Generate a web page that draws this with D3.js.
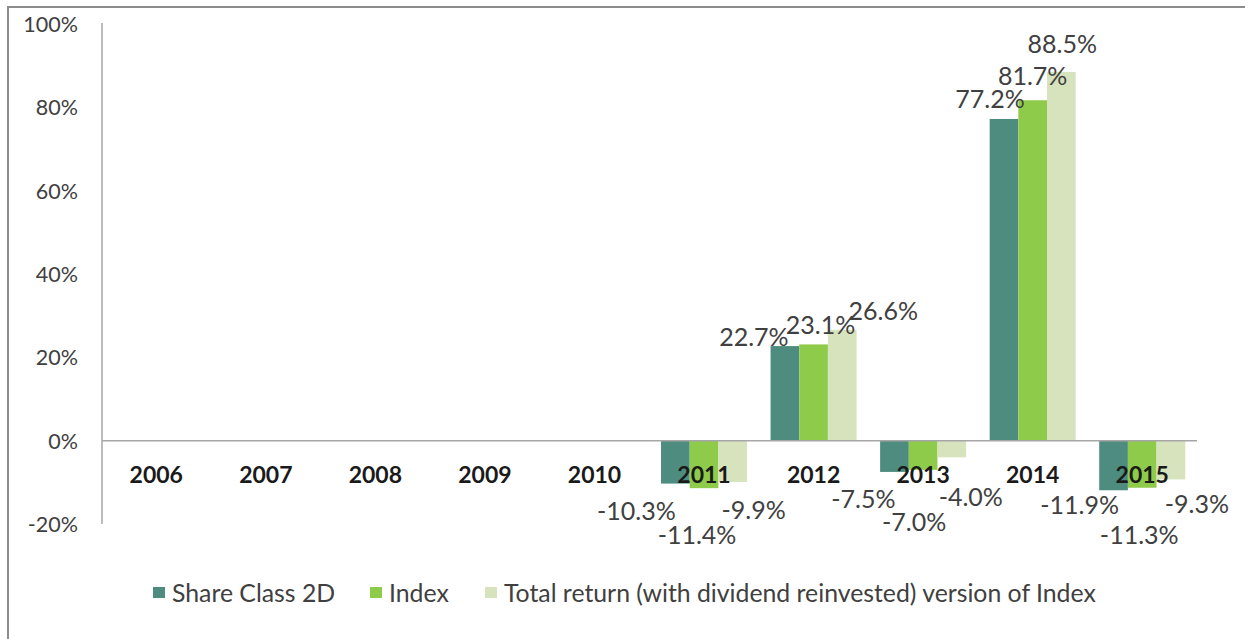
<!DOCTYPE html>
<html><head><meta charset="utf-8">
<script src="https://cdn.jsdelivr.net/npm/d3@7/dist/d3.min.js"></script>
<style>
html,body{margin:0;padding:0;background:#fff;}
svg{display:block;font-family:Lato,"Open Sans",sans-serif;}
</style></head>
<body>
<svg id="chart" width="1254" height="639"></svg>
<script>
const years = ["2006","2007","2008","2009","2010","2011","2012","2013","2014","2015"];
const seriesNames = ["Share Class 2D","Index","Total return (with dividend reinvested) version of Index"];
const shareClass = [null,null,null,null,null,-10.3,22.7,-7.5,77.2,-11.9];
const indexVals  = [null,null,null,null,null,-11.4,23.1,-7.0,81.7,-11.3];
const totalRet   = [null,null,null,null,null,-9.9,26.6,-4.0,88.5,-9.3];
const yTicks = [-20,0,20,40,60,80,100];
const colors = ["#4d8c7e","#8fcb4a","#d6e3bc"];
// label nudges [dx, dy] relative to bar end (pixels), per series per year index 5..9
const labelNudge = [
  [[-39,28],[-31,-9],[-31,27],[-14,-20],[-34,15]],
  [[-7,47],[7,-19],[-9,52],[0,-24],[-3,47]],
  [[21,28],[41,-19],[19,40],[1,-28],[26,25]]
];

const svg = d3.select("#chart");
const x0 = d3.scaleBand().domain(years).range([101.5,1197]).paddingInner(0.215).paddingOuter(0.1075);
const x1 = d3.scaleBand().domain([0,1,2]).range([0,x0.bandwidth()]);
const y = d3.scaleLinear().domain([-20,100]).range([524,24]);

// border
svg.append("path").attr("d",`M8,639 L8,7 L1245,7`).attr("fill","none").attr("stroke","#8c8c8c").attr("stroke-width",2);

// y axis
const yAxis = d3.axisLeft(y).tickValues(yTicks).tickSize(0).tickPadding(24).tickFormat(d=>d+"%");
const gy = svg.append("g").attr("transform","translate(102,0)").call(yAxis);
gy.select(".domain").attr("stroke","#a6a6a6").attr("stroke-width",1.5).attr("d","M0,23V524");
gy.selectAll("text").attr("font-size",21.5).attr("fill","#404040").attr("font-family","Lato,'Open Sans',sans-serif").attr("dy","0.35em");

// bars
const allSeries = [shareClass,indexVals,totalRet];
allSeries.forEach((vals,si)=>{
  svg.append("g").selectAll("rect").data(years.map((yr,i)=>({yr,v:vals[i]})).filter(d=>d.v!==null))
    .join("rect")
    .attr("x",d=>x0(d.yr)+x1(si))
    .attr("width",x1.bandwidth())
    .attr("y",d=>Math.min(y(d.v),y(0)))
    .attr("height",d=>Math.abs(y(d.v)-y(0)))
    .attr("fill",colors[si]);
});

// zero line
svg.append("line").attr("x1",102).attr("x2",1197).attr("y1",y(0)).attr("y2",y(0)).attr("stroke","#a6a6a6").attr("stroke-width",1.5);

// category labels
const xAxis = d3.axisBottom(x0).tickSize(0).tickPadding(0);
const gx = svg.append("g").attr("transform",`translate(0,${y(0)})`).call(xAxis);
gx.select(".domain").remove();
gx.selectAll("text").attr("font-size",23).attr("font-weight","bold").attr("fill","#1a1a1a")
  .attr("font-family","Lato,'Open Sans',sans-serif").attr("y",34).attr("dy","0.35em");

// data labels
allSeries.forEach((vals,si)=>{
  svg.append("g").selectAll("text").data(years.map((yr,i)=>({yr,v:vals[i],i})).filter(d=>d.v!==null))
    .join("text")
    .attr("x",d=>x0(d.yr)+x1(si)+x1.bandwidth()/2+labelNudge[si][d.i-5][0])
    .attr("y",d=>y(d.v)+labelNudge[si][d.i-5][1])
    .attr("dy","0.35em")
    .attr("text-anchor","middle")
    .attr("font-size",25)
    .attr("fill","#404040")
    .text(d=>d.v.toFixed(1)+"%");
});

// legend
const legendX = [153,370,485];
const lg = svg.append("g");
seriesNames.forEach((n,i)=>{
  lg.append("rect").attr("x",legendX[i]).attr("y",587).attr("width",12).attr("height",11).attr("fill",colors[i]);
  lg.append("text").attr("x",legendX[i]+19).attr("y",593).attr("dy","0.35em").attr("font-size",24.8).attr("fill","#404040").text(n);
});
</script>
</body></html>
